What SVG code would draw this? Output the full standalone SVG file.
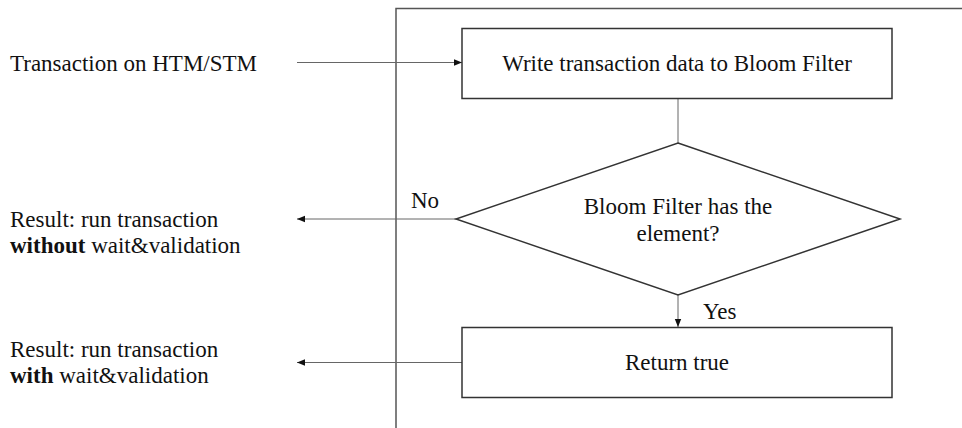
<svg xmlns="http://www.w3.org/2000/svg" width="962" height="428" viewBox="0 0 962 428">
<style>
text{font-family:'Liberation Serif','Times New Roman',Tinos,'DejaVu Serif',serif;font-size:23px;fill:#111}
.c{text-anchor:middle}
.box{fill:#fff;stroke:#333;stroke-width:1.5}
.frame{fill:none;stroke:#555;stroke-width:1.5}
.ln{fill:none;stroke:#666;stroke-width:1}
</style>
<defs>
<marker id="ah" viewBox="0 0 10 10" refX="10" refY="5" markerWidth="8" markerHeight="8" markerUnits="userSpaceOnUse" orient="auto">
<path d="M0,1 L10,5 L0,9 Z" fill="#111"/>
</marker>
</defs>
<g id="frame">
<path class="frame" d="M396,428 L396,8.5 L962,8.5"/>
</g>
<g id="connectors">
<line class="ln" x1="297" y1="62.5" x2="462" y2="62.5" marker-end="url(#ah)"/>
<line class="ln" x1="678" y1="99" x2="678" y2="143"/>
<line class="ln" x1="456" y1="219" x2="297" y2="219" marker-end="url(#ah)"/>
<line class="ln" x1="678" y1="295" x2="678" y2="327" marker-end="url(#ah)"/>
<line class="ln" x1="462" y1="362.5" x2="297" y2="362.5" marker-end="url(#ah)"/>
</g>
<g id="input">
<text x="10" y="71" font-family="Liberation Serif, serif">Transaction on HTM/STM</text>
</g>
<g id="write">
<rect class="box" x="462" y="28.5" width="430" height="70"/>
<text class="c" x="677" y="71" font-family="Liberation Serif, serif">Write transaction data to Bloom Filter</text>
</g>
<g id="decision">
<polygon class="box" points="678,143 900,219 678,295 456,219"/>
<text class="c" x="678" y="214" font-family="Liberation Serif, serif">Bloom Filter has the</text>
<text class="c" x="678" y="241" font-family="Liberation Serif, serif">element?</text>
</g>
<g id="return">
<rect class="box" x="462" y="327.5" width="430" height="70"/>
<text class="c" x="677" y="370" font-family="Liberation Serif, serif">Return true</text>
</g>
<g id="labels">
<text x="411" y="208" font-family="Liberation Serif, serif">No</text>
<text x="703" y="319" font-family="Liberation Serif, serif">Yes</text>
</g>
<g id="result-no">
<text x="10" y="227" font-family="Liberation Serif, serif">Result: run transaction</text>
<text x="10" y="253" font-family="Liberation Serif, serif"><tspan font-weight="bold">without</tspan> wait&amp;validation</text>
</g>
<g id="result-yes">
<text x="10" y="357" font-family="Liberation Serif, serif">Result: run transaction</text>
<text x="10" y="383" font-family="Liberation Serif, serif"><tspan font-weight="bold">with</tspan> wait&amp;validation</text>
</g>
</svg>
